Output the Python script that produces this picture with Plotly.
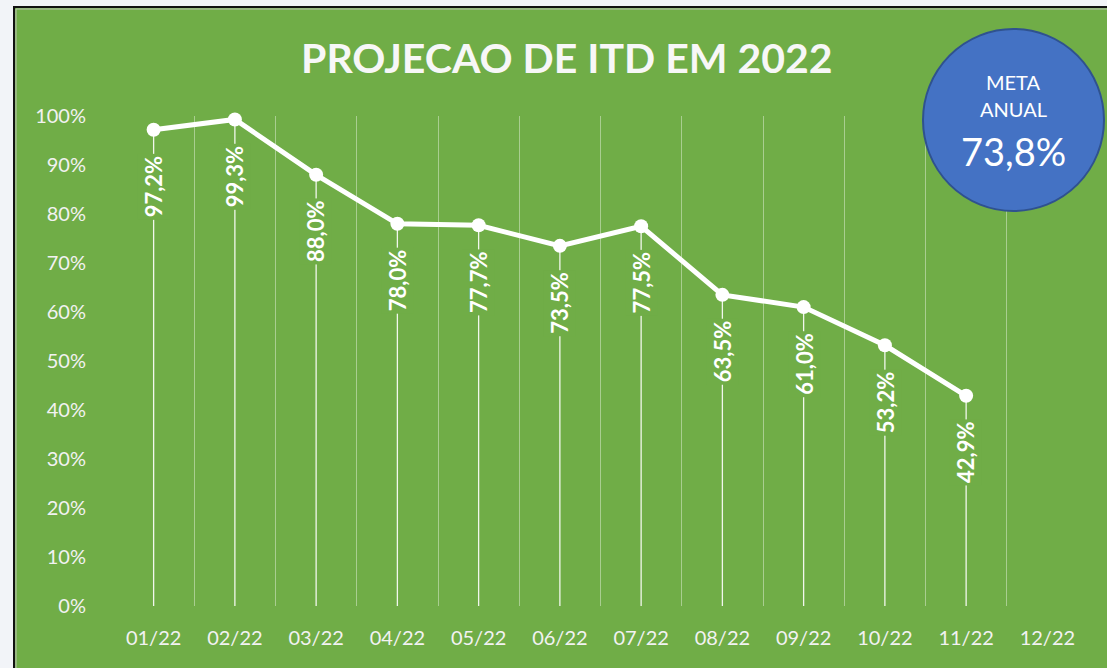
import plotly.graph_objects as go

months = ["01/22", "02/22", "03/22", "04/22", "05/22", "06/22",
          "07/22", "08/22", "09/22", "10/22", "11/22", "12/22"]
itd = [97.2, 99.3, 88.0, 78.0, 77.7, 73.5, 77.5, 63.5, 61.0, 53.2, 42.9]
labels = ["97,2%", "99,3%", "88,0%", "78,0%", "77,7%", "73,5%",
          "77,5%", "63,5%", "61,0%", "53,2%", "42,9%"]
y_ticks = list(range(0, 101, 10))
meta_label = "73,8%"

GREEN = "#70AD47"
W, H = 1107, 668
L, R, T, B = 113, 19, 116, 62
PW, PH = W - L - R, H - T - B


def px(x):
    return (x - L) / PW


def py(y):
    return (H - B - y) / PH


xi = list(range(len(itd)))

fig = go.Figure()

# drop lines from each point to the axis
dx, dy = [], []
for i, v in zip(xi, itd):
    dx += [i, i, None]
    dy += [0, v, None]
fig.add_trace(go.Scatter(x=dx, y=dy, mode="lines",
                         line=dict(color="rgba(255,255,255,0.9)", width=1.3),
                         hoverinfo="skip", showlegend=False))

fig.add_trace(go.Scatter(x=xi, y=itd, mode="lines+markers",
                         line=dict(color="white", width=5),
                         marker=dict(color="white", size=14),
                         cliponaxis=False, showlegend=False))

annotations = []
for i, v, t in zip(xi, itd, labels):
    annotations.append(dict(x=i, y=v, xref="x", yref="y", text=t,
                            textangle=-90, yshift=-57, showarrow=False,
                            bgcolor=GREEN, borderpad=2,
                            font=dict(family="Lato", size=22, color="white",
                                      weight="bold")))


def ptext(x, y, text, size, bold=False, color="white"):
    return dict(x=px(x), y=py(y), xref="paper", yref="paper", text=text,
                showarrow=False, xanchor="center", yanchor="middle",
                font=dict(family="Lato", size=size, color=color,
                          weight="bold" if bold else "normal"))


annotations += [
    ptext(567, 58, "PROJECAO DE ITD EM 2022", 41, bold=True, color="#F7F7F7"),
    ptext(1013, 82, "META", 20),
    ptext(1013, 109, "ANUAL", 20),
    ptext(1013, 151, meta_label, 38),
]

shapes = [
    # green panel with black frame
    dict(type="rect", xref="paper", yref="paper", layer="below",
         x0=px(14), x1=px(W + 10), y0=py(H + 10), y1=py(7),
         fillcolor=GREEN, line=dict(color="#111111", width=2)),
    dict(type="rect", xref="paper", yref="paper", layer="below",
         x0=px(16), x1=px(W + 10), y0=py(H + 10), y1=py(9),
         fillcolor="rgba(0,0,0,0)", line=dict(color="#BFC4BA", width=1)),
    # meta circle
    dict(type="circle", xref="paper", yref="paper", layer="above",
         x0=px(923), x1=px(1104), y0=py(211), y1=py(29),
         fillcolor="#4472C4", line=dict(color="#2F528F", width=2)),
]

fig.update_layout(
    width=W, height=H,
    margin=dict(l=L, r=R, t=T, b=B),
    paper_bgcolor="#F2F4F8",
    plot_bgcolor="rgba(0,0,0,0)",
    annotations=annotations,
    shapes=shapes,
    showlegend=False,
    xaxis=dict(range=[-0.5, len(months) - 0.5], tickmode="array",
               tickvals=list(range(len(months))), ticktext=months,
               showgrid=False, zeroline=False, showline=False,
               ticks="outside", ticklen=14, tickcolor="rgba(0,0,0,0)",
               tickfont=dict(family="Lato", size=20, color="#F2F2F2"),
               minor=dict(tickmode="array",
                          tickvals=[i - 0.5 for i in range(len(months) + 1)],
                          showgrid=True, gridcolor="rgba(255,255,255,0.4)",
                          gridwidth=1, ticks="")),
    yaxis=dict(range=[0, 100], tickmode="array", tickvals=y_ticks,
               ticktext=[f"{v}%" for v in y_ticks],
               showgrid=False, zeroline=False, showline=False,
               ticks="outside", ticklen=22, tickcolor="rgba(0,0,0,0)",
               tickfont=dict(family="Lato", size=20, color="#F2F2F2")),
)

fig.write_html("out.html",
               config={"displayModeBar": False},
               post_script="document.body.style.margin='0';"
                           "document.body.style.overflow='hidden';")
